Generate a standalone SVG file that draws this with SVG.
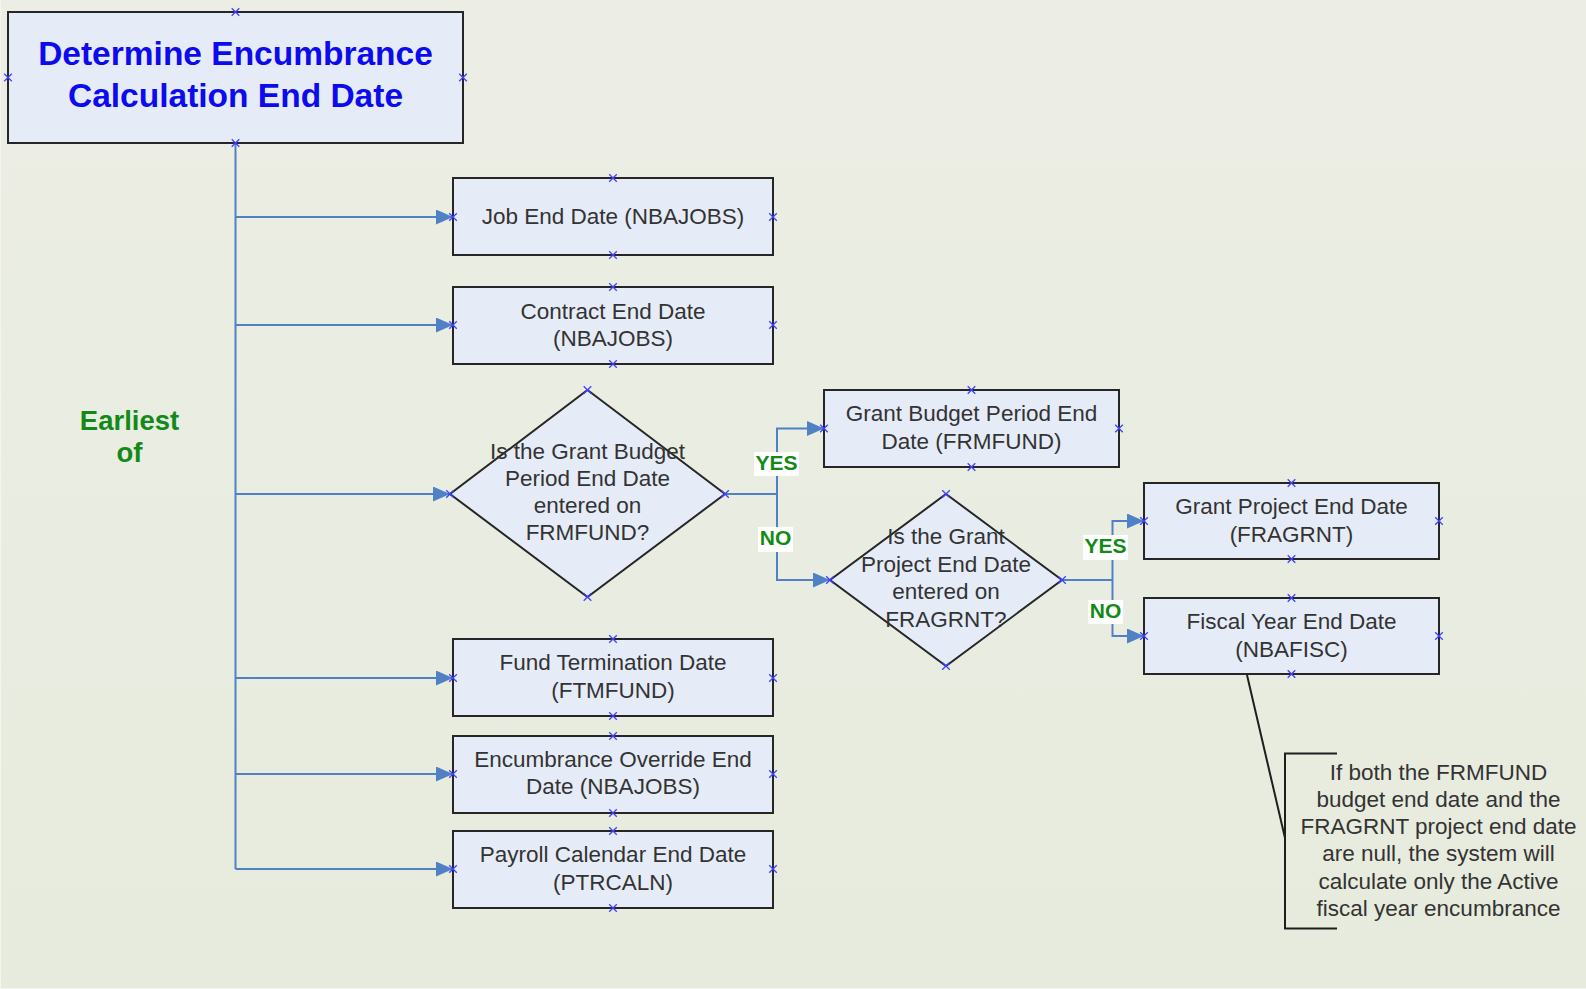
<svg xmlns="http://www.w3.org/2000/svg" xmlns:xlink="http://www.w3.org/1999/xlink" width="1586" height="989" viewBox="0 0 1586 989">
  <style>
    .box { fill: #E6ECF7; stroke: #262626; stroke-width: 2; }
    .txt { font-family: "Liberation Sans", Arial, sans-serif; font-size: 22.5px; fill: #333333; text-anchor: middle; }
    .title { font-family: "Liberation Sans", Arial, sans-serif; font-size: 33.5px; font-weight: bold; fill: #0B0BEE; text-anchor: middle; }
    .green { font-family: "Liberation Sans", Arial, sans-serif; font-weight: bold; fill: #138A17; text-anchor: middle; }
    .conn { fill: none; stroke: #4F81C4; stroke-width: 2; }
    .lbl { fill: #FFFFFF; stroke: none; }
    .pin { stroke: #4040FF; stroke-width: 1.3; fill: none; }
    .note { fill: none; stroke: #1E1E1E; stroke-width: 2; }
  </style>
  <defs>
    <linearGradient id="bg" x1="0" y1="0" x2="0" y2="1">
      <stop offset="0" stop-color="#ECEEE5"/>
      <stop offset="1" stop-color="#E7EBDD"/>
    </linearGradient>
    <marker id="arrow" viewBox="0 0 17 15" refX="17" refY="7.5" markerWidth="17" markerHeight="15" markerUnits="userSpaceOnUse" orient="auto">
      <path d="M0,0 L17,7.5 L0,15 Z" fill="#4F81C4"/>
    </marker>
    <!-- connection-point cross -->
    <symbol id="x" overflow="visible">
      <path class="pin" d="M-3.8,-3.8 L3.8,3.8 M-3.8,3.8 L3.8,-3.8"/>
    </symbol>
  </defs>

  <rect x="0" y="0" width="1586" height="989" fill="#F4F5F0"/>
  <rect x="1" y="0" width="1585" height="988" fill="url(#bg)"/>

  <!-- connectors -->
  <g id="connectors">
    <path class="conn" d="M235.5,143 V869"/>
    <path class="conn" d="M235.5,217 H453" marker-end="url(#arrow)"/>
    <path class="conn" d="M235.5,325 H453" marker-end="url(#arrow)"/>
    <path class="conn" d="M235.5,494 H450" marker-end="url(#arrow)"/>
    <path class="conn" d="M235.5,678 H453" marker-end="url(#arrow)"/>
    <path class="conn" d="M235.5,774 H453" marker-end="url(#arrow)"/>
    <path class="conn" d="M235.5,869 H453" marker-end="url(#arrow)"/>

    <path class="conn" d="M725,494 H777"/>
    <path class="conn" d="M777,494 V428.5 H824" marker-end="url(#arrow)"/>
    <path class="conn" d="M777,494 V580 H830" marker-end="url(#arrow)"/>

    <path class="conn" d="M1062,580 H1112.5"/>
    <path class="conn" d="M1112.5,580 V521 H1144" marker-end="url(#arrow)"/>
    <path class="conn" d="M1112.5,580 V636 H1144" marker-end="url(#arrow)"/>

    <g id="label-yes-1">
      <rect class="lbl" x="754" y="452" width="45" height="24"/>
      <text class="green" x="776.5" y="469.5" font-size="21">YES</text>
    </g>
    <g id="label-no-1">
      <rect class="lbl" x="758" y="527" width="35" height="25"/>
      <text class="green" x="775.5" y="545" font-size="21">NO</text>
    </g>
    <g id="label-yes-2">
      <rect class="lbl" x="1083" y="535" width="45" height="25"/>
      <text class="green" x="1105.5" y="552.5" font-size="21">YES</text>
    </g>
    <g id="label-no-2">
      <rect class="lbl" x="1088" y="600" width="35" height="24"/>
      <text class="green" x="1105.5" y="617.5" font-size="21">NO</text>
    </g>
  </g>

  <!-- nodes -->
  <g id="title">
    <rect class="box" x="8" y="12" width="455" height="131"/>
    <text class="title" x="235.5" y="65">Determine Encumbrance</text>
    <text class="title" x="235.5" y="107">Calculation End Date</text>
  </g>

  <g id="earliest-of">
    <text class="green" x="129.5" y="429.5" font-size="27.5">Earliest</text>
    <text class="green" x="129.5" y="462" font-size="27.5">of</text>
  </g>

  <g id="job-end">
    <rect class="box" x="453" y="178" width="320" height="77"/>
    <text class="txt" x="613" y="223.5">Job End Date (NBAJOBS)</text>
  </g>

  <g id="contract-end">
    <rect class="box" x="453" y="287" width="320" height="77"/>
    <text class="txt" x="613" y="318.5">Contract End Date</text>
    <text class="txt" x="613" y="345.5">(NBAJOBS)</text>
  </g>

  <g id="budget-decision">
    <polygon class="box" points="587.5,390 725,494 587.5,597 450,494"/>
    <text class="txt" x="587.5" y="458.5">Is the Grant Budget</text>
    <text class="txt" x="587.5" y="485.5">Period End Date</text>
    <text class="txt" x="587.5" y="512.5">entered on</text>
    <text class="txt" x="587.5" y="539.5">FRMFUND?</text>
  </g>

  <g id="grant-budget-end">
    <rect class="box" x="824" y="390" width="295" height="77"/>
    <text class="txt" x="971.5" y="421">Grant Budget Period End</text>
    <text class="txt" x="971.5" y="448.5">Date (FRMFUND)</text>
  </g>

  <g id="project-decision">
    <polygon class="box" points="946,494 1062,580 946,666 830,580"/>
    <text class="txt" x="946" y="544">Is the Grant</text>
    <text class="txt" x="946" y="571.5">Project End Date</text>
    <text class="txt" x="946" y="599">entered on</text>
    <text class="txt" x="946" y="626.5">FRAGRNT?</text>
  </g>

  <g id="grant-project-end">
    <rect class="box" x="1144" y="483" width="295" height="76"/>
    <text class="txt" x="1291.5" y="513.5">Grant Project End Date</text>
    <text class="txt" x="1291.5" y="541.5">(FRAGRNT)</text>
  </g>

  <g id="fiscal-year-end">
    <rect class="box" x="1144" y="598" width="295" height="76"/>
    <text class="txt" x="1291.5" y="628.5">Fiscal Year End Date</text>
    <text class="txt" x="1291.5" y="656.5">(NBAFISC)</text>
  </g>

  <g id="fund-termination">
    <rect class="box" x="453" y="639" width="320" height="77"/>
    <text class="txt" x="613" y="670">Fund Termination Date</text>
    <text class="txt" x="613" y="697.5">(FTMFUND)</text>
  </g>

  <g id="override-end">
    <rect class="box" x="453" y="736" width="320" height="77"/>
    <text class="txt" x="613" y="767">Encumbrance Override End</text>
    <text class="txt" x="613" y="794">Date (NBAJOBS)</text>
  </g>

  <g id="payroll-end">
    <rect class="box" x="453" y="831" width="320" height="77"/>
    <text class="txt" x="613" y="862">Payroll Calendar End Date</text>
    <text class="txt" x="613" y="889.5">(PTRCALN)</text>
  </g>

  <g id="annotation">
    <path class="note" d="M1247,675 L1285,838"/>
    <path class="note" d="M1337,753.5 H1285 V928.5 H1337"/>
    <text class="txt" x="1438.5" y="779.5">If both the FRMFUND</text>
    <text class="txt" x="1438.5" y="807">budget end date and the</text>
    <text class="txt" x="1438.5" y="834">FRAGRNT project end date</text>
    <text class="txt" x="1438.5" y="861">are null, the system will</text>
    <text class="txt" x="1438.5" y="888.5">calculate only the Active</text>
    <text class="txt" x="1438.5" y="916">fiscal year encumbrance</text>
  </g>

  <!-- connection points -->
  <g id="pins">
    <use href="#x" x="235.5" y="12"/><use href="#x" x="8" y="77.5"/><use href="#x" x="463" y="77.5"/><use href="#x" x="235.5" y="143"/>
    <use href="#x" x="613" y="178"/><use href="#x" x="453" y="217"/><use href="#x" x="773" y="217"/><use href="#x" x="613" y="255"/>
    <use href="#x" x="613" y="287"/><use href="#x" x="453" y="325"/><use href="#x" x="773" y="325"/><use href="#x" x="613" y="364"/>
    <use href="#x" x="613" y="639"/><use href="#x" x="453" y="678"/><use href="#x" x="773" y="678"/><use href="#x" x="613" y="716"/>
    <use href="#x" x="613" y="736"/><use href="#x" x="453" y="774"/><use href="#x" x="773" y="774"/><use href="#x" x="613" y="813"/>
    <use href="#x" x="613" y="831"/><use href="#x" x="453" y="869"/><use href="#x" x="773" y="869"/><use href="#x" x="613" y="908"/>
    <use href="#x" x="971.5" y="390"/><use href="#x" x="824" y="428.5"/><use href="#x" x="1119" y="428.5"/><use href="#x" x="971.5" y="467"/>
    <use href="#x" x="1291.5" y="483"/><use href="#x" x="1144" y="521"/><use href="#x" x="1439" y="521"/><use href="#x" x="1291.5" y="559"/>
    <use href="#x" x="1291.5" y="598"/><use href="#x" x="1144" y="636"/><use href="#x" x="1439" y="636"/><use href="#x" x="1291.5" y="674"/>
    <use href="#x" x="587.5" y="390"/><use href="#x" x="725" y="494"/><use href="#x" x="587.5" y="597"/><use href="#x" x="450" y="494"/>
    <use href="#x" x="946" y="494"/><use href="#x" x="1062" y="580"/><use href="#x" x="946" y="666"/><use href="#x" x="830" y="580"/>
  </g>
</svg>
